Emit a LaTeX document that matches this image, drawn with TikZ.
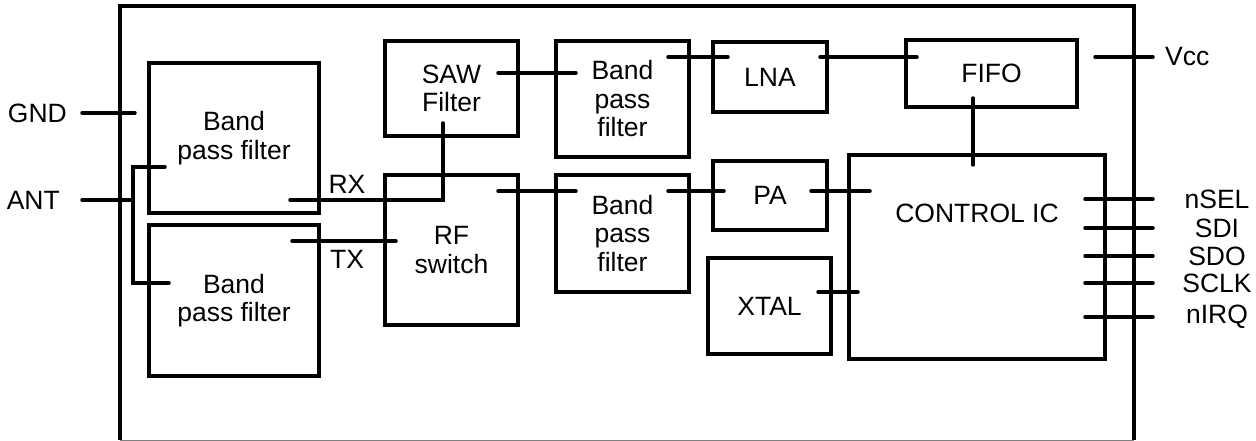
\documentclass[tikz,border=0pt]{standalone}
\usepackage{fontspec}
\setmainfont{Liberation Sans}
\usepackage{tikz}
\usetikzlibrary{positioning}

\begin{document}
\begin{tikzpicture}[
  x=1pt,y=-1pt,
  blk/.style={draw,line width=3.5pt,inner sep=0pt,align=center,
    font=\fontsize{26.5}{28.5}\selectfont},
  lbl/.style={inner sep=0pt,font=\fontsize{26.5}{28.5}\selectfont},
  wire/.style={line width=3.5pt,line cap=round},
  frame/.style={line width=4pt}
]
\useasboundingbox (0,0) rectangle (1256,441);
% module outline
\draw[frame] (120,440) |- (1134,6) -- (1134,440);
\draw[gray,line width=1pt] (120,440) -- (1134,440);

% blocks
\node[blk,minimum width=170,minimum height=150] (bpfa) at (234,138) {Band\\pass filter};
\node[blk,minimum width=170,minimum height=151] (bpfb) at (234,300.5) {Band\\pass filter};
\node[blk,minimum width=133,minimum height=95] (saw) at (451.5,88.5) {SAW\\Filter};
\node[blk,minimum width=133,minimum height=150] (rfsw) at (451.5,250) {RF\\switch};
\node[blk,minimum width=133,minimum height=116] (bpfc) at (622.5,99) {Band\\pass\\filter};
\node[blk,minimum width=133,minimum height=117] (bpfd) at (622.5,233.5) {Band\\pass\\filter};
\node[blk,minimum width=114,minimum height=70] (lna) at (770,77) {LNA};
\node[blk,minimum width=114,minimum height=69] (pa) at (770,195.5) {PA};
\node[blk,minimum width=123,minimum height=96] (xtal) at (769.5,306) {XTAL};
\node[blk,minimum width=171,minimum height=67] (fifo) at (991.5,73.5) {FIFO};
\node[blk,minimum width=256,minimum height=204] (ctrl) at (977,257) {};
\node[lbl] (ctrltxt) at (977,213) {CONTROL IC};

% pin ends
\coordinate (gndout) at (82,113);
\coordinate (gndin) at (135,113);
\coordinate (antout) at (82,200);
\coordinate (antbus) at (133,200);
\coordinate (bpfain) at (165,167);
\coordinate (bpfbin) at (169,283);
\coordinate (rxout) at (290,200);
\coordinate (sawin) at (443,123);
\coordinate (txout) at (292,241);
\coordinate (txin) at (396,241);
\coordinate (sawout) at (498,73);
\coordinate (bpfcin) at (576,73);
\coordinate (rfout) at (498,191);
\coordinate (bpfdin) at (576,191);
\coordinate (bpfcout) at (668,57);
\coordinate (lnain) at (728,57);
\coordinate (bpfdout) at (668,191);
\coordinate (pain) at (724,191);
\coordinate (lnaout) at (820,57);
\coordinate (fifoin) at (917,57);
\coordinate (paout) at (811,191);
\coordinate (ctrlpa) at (870,191);
\coordinate (xtalout) at (818,292);
\coordinate (ctrlx) at (858,292);
\coordinate (fifoout) at (973,98);
\coordinate (ctrltop) at (973,165);
\coordinate (vccin) at (1095,57);
\coordinate (vccout) at (1153,57);

% left side
\node[lbl,left=15pt of gndout] (gnd) {GND};
\node[lbl,left=22pt of antout] (ant) {ANT};
\draw[wire] (gndout) -- (gndin);
\draw[wire] (antout) -- (antbus);
\draw[wire] (bpfain) -- ++(-32,0) |- (bpfbin);
\draw[wire] (rxout) -| (sawin);
\draw[wire] (txout) -- (txin);
\node[lbl] (rx) at (347,184) {RX};
\node[lbl] (tx) at (347,259) {TX};

% signal chain
\draw[wire] (sawout) -- (bpfcin);
\draw[wire] (rfout) -- (bpfdin);
\draw[wire] (bpfcout) -- (lnain);
\draw[wire] (bpfdout) -- (pain);
\draw[wire] (lnaout) -- (fifoin);
\draw[wire] (paout) -- (ctrlpa);
\draw[wire] (xtalout) -- (ctrlx);
\draw[wire] (fifoout) -- (ctrltop);

% right side
\draw[wire] (vccin) -- (vccout);
\node[lbl,right=12pt of vccout] (vcc) {Vcc};
\foreach \y/\pin in {199/nSEL,228/SDI,256/SDO,283/SCLK,317/nIRQ}{
  \coordinate (in\pin) at (1085,\y);
  \coordinate (out\pin) at (1153,\y);
  \draw[wire] (in\pin) -- (out\pin);
  \node[lbl] (lbl\pin) at (1217,\y) {\pin};
}
\end{tikzpicture}
\end{document}
